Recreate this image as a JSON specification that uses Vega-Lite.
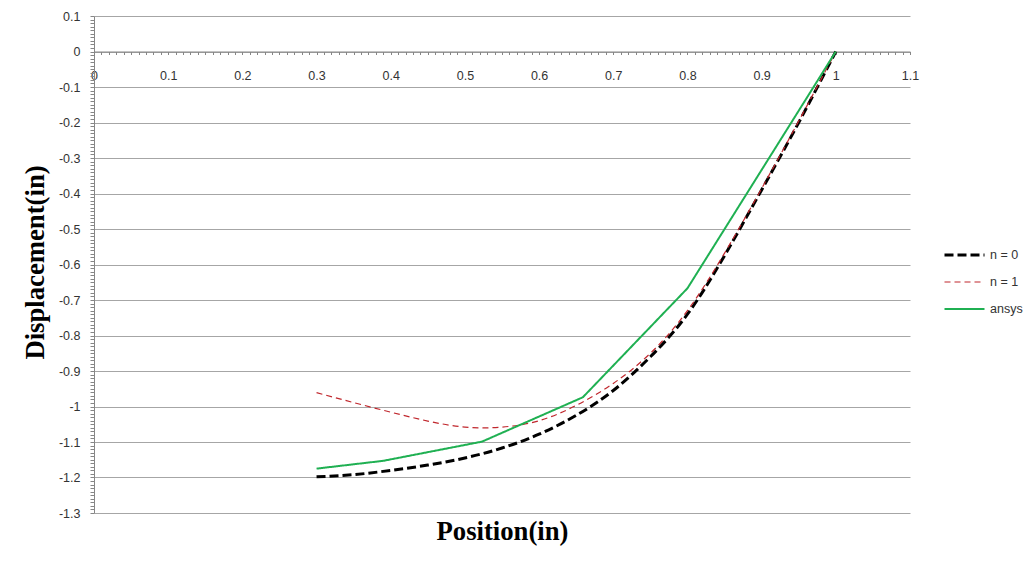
{
  "$schema": "https://vega.github.io/schema/vega-lite/v6.json",
  "width": 816,
  "height": 497,
  "autosize": {"type": "none"},
  "padding": {"left": 94, "top": 16, "right": 116, "bottom": 56},
  "background": "white",
  "config": {
    "view": {"stroke": null},
    "axis": {"labelFont": "Liberation Sans", "labelFontSize": 12.5, "labelColor": "#333333", "titleFont": "Liberation Serif", "titleFontWeight": "bold", "titleFontSize": 26.7, "titleColor": "#000000"}
  },
  "data": {"values": [
    {"x": 0.3, "y": -1.198, "s": "n = 0"},
    {"x": 0.35, "y": -1.192, "s": "n = 0"},
    {"x": 0.4, "y": -1.18, "s": "n = 0"},
    {"x": 0.45, "y": -1.165, "s": "n = 0"},
    {"x": 0.5, "y": -1.145, "s": "n = 0"},
    {"x": 0.55, "y": -1.117, "s": "n = 0"},
    {"x": 0.6, "y": -1.078, "s": "n = 0"},
    {"x": 0.65, "y": -1.025, "s": "n = 0"},
    {"x": 0.7, "y": -0.955, "s": "n = 0"},
    {"x": 0.75, "y": -0.86, "s": "n = 0"},
    {"x": 0.8, "y": -0.74, "s": "n = 0"},
    {"x": 0.85, "y": -0.575, "s": "n = 0"},
    {"x": 0.9, "y": -0.39, "s": "n = 0"},
    {"x": 0.95, "y": -0.2, "s": "n = 0"},
    {"x": 1.0, "y": 0, "s": "n = 0"},
    {"x": 0.3, "y": -0.961, "s": "n = 1"},
    {"x": 0.35, "y": -0.989, "s": "n = 1"},
    {"x": 0.4, "y": -1.016, "s": "n = 1"},
    {"x": 0.45, "y": -1.041, "s": "n = 1"},
    {"x": 0.5, "y": -1.058, "s": "n = 1"},
    {"x": 0.55, "y": -1.058, "s": "n = 1"},
    {"x": 0.6, "y": -1.04, "s": "n = 1"},
    {"x": 0.65, "y": -0.997, "s": "n = 1"},
    {"x": 0.7, "y": -0.935, "s": "n = 1"},
    {"x": 0.75, "y": -0.85, "s": "n = 1"},
    {"x": 0.8, "y": -0.73, "s": "n = 1"},
    {"x": 0.85, "y": -0.568, "s": "n = 1"},
    {"x": 0.9, "y": -0.386, "s": "n = 1"},
    {"x": 0.95, "y": -0.196, "s": "n = 1"},
    {"x": 1.0, "y": 0, "s": "n = 1"},
    {"x": 0.3, "y": -1.175, "s": "ansys"},
    {"x": 0.39, "y": -1.153, "s": "ansys"},
    {"x": 0.523, "y": -1.099, "s": "ansys"},
    {"x": 0.659, "y": -0.974, "s": "ansys"},
    {"x": 0.8, "y": -0.667, "s": "ansys"},
    {"x": 1.0, "y": 0, "s": "ansys"}
  ]},
  "encoding": {
    "x": {"field": "x", "type": "quantitative",
      "scale": {"domain": [0, 1.1], "nice": false, "zero": false},
      "axis": {"orient": "bottom", "offset": -461.5, "title": "Position(in)",
        "tickCount": 110, "tickSize": 3, "tickColor": "#868686", "domainColor": "#868686", "grid": false,
        "labelPadding": 15, "labelFlush": false, "labelOverlap": false,
        "labelExpr": "abs(datum.value*10 - round(datum.value*10)) < 0.000001 ? '' + round(datum.value*10)/10 : ''",
        "titleY": 487.5, "titleBaseline": "alphabetic"}},
    "y": {"field": "y", "type": "quantitative",
      "scale": {"domain": [-1.3, 0.1], "nice": false, "zero": false},
      "axis": {"title": "Displacement(in)", "tickCount": 140, "tickSize": 4, "tickColor": "#868686", "domainColor": "#868686",
        "grid": true, "gridColor": "#a6a6a6",
        "gridOpacity": {"condition": {"test": "abs(datum.value*10 - round(datum.value*10)) < 0.000001", "value": 1}, "value": 0},
        "labelPadding": 10, "labelFlush": false, "labelOverlap": false,
        "labelExpr": "abs(datum.value*10 - round(datum.value*10)) < 0.000001 ? '' + round(datum.value*10)/10 : ''",
        "titleX": -51, "titleY": 246, "titleAngle": 270, "titleAlign": "center", "titleBaseline": "alphabetic"}},
    "color": {"field": "s", "type": "nominal",
      "scale": {"domain": ["n = 0", "n = 1", "ansys"], "range": ["#000000", "#c0272d", "#1fb052"]},
      "legend": {"title": null, "orient": "none", "legendX": 849, "legendY": 229, "padding": 0,
        "symbolType": "stroke", "symbolSize": 1600, "clipHeight": 20, "rowPadding": 7,
        "labelFont": "Liberation Sans", "labelFontSize": 12.5, "labelColor": "#333333", "labelOffset": 4}},
    "strokeDash": {"field": "s", "type": "nominal",
      "scale": {"domain": ["n = 0", "n = 1", "ansys"], "range": [[9, 4], [6, 4], [1, 0]]}},
    "strokeWidth": {"field": "s", "type": "nominal",
      "scale": {"type": "ordinal", "domain": ["n = 0", "n = 1", "ansys"], "range": [3, 1.2, 2]}}
  },
  "layer": [
    {"transform": [{"filter": "datum.s !== 'ansys'"}],
     "mark": {"type": "line", "interpolate": "natural"}},
    {"transform": [{"filter": "datum.s === 'ansys'"}],
     "mark": {"type": "line"}}
  ]
}
